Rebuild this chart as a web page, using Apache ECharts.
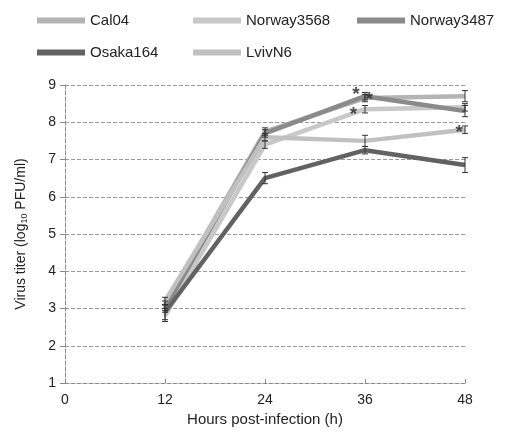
<!DOCTYPE html>
<html>
<head>
<meta charset="utf-8">
<script src="https://cdn.jsdelivr.net/npm/echarts@6/dist/echarts.min.js"></script>
<style>
  html, body { margin: 0; padding: 0; background: #fff; }
  #chart { width: 530px; height: 444px; }
</style>
</head>
<body>
<div id="chart"></div>
<script>
// hours post-infection
const hours = [12, 24, 36, 48];

// virus titer (log10 PFU/ml) per strain
const cal04 = [3.1, 7.75, 8.65, 8.7];
const norway3568 = [2.8, 7.4, 8.35, 8.4];
const norway3487 = [3.0, 7.7, 8.7, 8.3];
const osaka164 = [2.9, 6.5, 7.25, 6.85];
const lvivN6 = [3.2, 7.6, 7.5, 7.8];

// error bar half-widths
const cal04Err = [0.1, 0.1, 0.1, 0.15];
const norway3568Err = [0.15, 0.1, 0.1, 0.1];
const norway3487Err = [0.1, 0.1, 0.1, 0.15];
const osaka164Err = [0.2, 0.15, 0.1, 0.2];
const lvivN6Err = [0.1, 0.1, 0.15, 0.1];

// significance marks [hour, titer]
const stars = [[34.9, 8.89], [36.5, 8.76], [34.6, 8.36], [47.3, 7.87]];

const strains = [
  { name: "Cal04", data: cal04, err: cal04Err, color: "#b4b4b4" },
  { name: "Norway3568", data: norway3568, err: norway3568Err, color: "#c8c8c8" },
  { name: "Norway3487", data: norway3487, err: norway3487Err, color: "#8a8a8a" },
  { name: "Osaka164", data: osaka164, err: osaka164Err, color: "#626262" },
  { name: "LvivN6", data: lvivN6, err: lvivN6Err, color: "#c0c0c0" },
];

const legendPos = [
  [32, 8], [188, 8], [352, 8],
  [32, 40], [188, 40],
];

const chart = echarts.init(document.getElementById("chart"));

const series = [];
strains.forEach((s) => {
  series.push({
    name: s.name,
    type: "line",
    data: hours.map((h, i) => [h, s.data[i]]),
    symbol: "none",
    lineStyle: { width: 4.5, color: s.color },
    itemStyle: { color: s.color },
    z: 3,
  });
  series.push({
    type: "custom",
    data: hours.map((h, i) => [h, s.data[i] - s.err[i], s.data[i] + s.err[i]]),
    renderItem: function (params, api) {
      const lo = api.coord([api.value(0), api.value(1)]);
      const hi = api.coord([api.value(0), api.value(2)]);
      const w = 3;
      const st = { stroke: "#333", lineWidth: 1 };
      return {
        type: "group",
        children: [
          { type: "line", shape: { x1: lo[0], y1: lo[1], x2: hi[0], y2: hi[1] }, style: st },
          { type: "line", shape: { x1: lo[0] - w, y1: lo[1], x2: lo[0] + w, y2: lo[1] }, style: st },
          { type: "line", shape: { x1: hi[0] - w, y1: hi[1], x2: hi[0] + w, y2: hi[1] }, style: st },
        ],
      };
    },
    z: 4,
    silent: true,
  });
});

series.push({
  type: "scatter",
  data: stars,
  symbolSize: 0,
  label: {
    show: true,
    formatter: "*",
    position: "inside",
    offset: [0, 6],
    fontSize: 19,
    fontWeight: "bold",
    fontFamily: "Liberation Sans",
    color: "#222",
  },
  z: 5,
  silent: true,
});

const option = {
  animation: false,
  legend: strains.map((s, i) => ({
    data: [s.name],
    left: legendPos[i][0],
    top: legendPos[i][1],
    itemWidth: 48,
    itemHeight: 6,
    icon: "rect",
    itemGap: 0,
    textStyle: { fontSize: 15, color: "#222", fontFamily: "Liberation Sans" },
  })),
  grid: { left: 65, right: 65, top: 85, bottom: 61 },
  xAxis: {
    type: "value",
    min: 0,
    max: 48,
    interval: 12,
    name: "Hours post-infection (h)",
    nameLocation: "middle",
    nameGap: 29,
    nameTextStyle: { fontSize: 15, color: "#222", fontFamily: "Liberation Sans" },
    axisLine: { lineStyle: { color: "#888", type: "dashed", width: 1 } },
    axisTick: { show: true, length: 4, inside: true, lineStyle: { color: "#888" } },
    axisLabel: { fontSize: 14, color: "#222", margin: 10, fontFamily: "Liberation Sans" },
    splitLine: { show: false },
  },
  yAxis: {
    type: "value",
    min: 1,
    max: 9,
    interval: 1,
    name: "Virus titer (log{sub|10} PFU/ml)",
    nameLocation: "middle",
    nameGap: 36,
    nameTextStyle: {
      fontSize: 14,
      color: "#222",
      fontFamily: "Liberation Sans",
      rich: { sub: { fontSize: 9, verticalAlign: "bottom", padding: [6, 0, 0, 0] } },
    },
    axisLine: { show: true, lineStyle: { color: "#888", type: "dashed", width: 1 } },
    axisTick: { show: true, length: 5, lineStyle: { color: "#888" } },
    axisLabel: { fontSize: 14, color: "#222", margin: 9, fontFamily: "Liberation Sans" },
    splitLine: { show: true, lineStyle: { color: "#999", type: "dashed", width: 1 } },
  },
  series: series,
};

chart.setOption(option);
</script>
</body>
</html>
